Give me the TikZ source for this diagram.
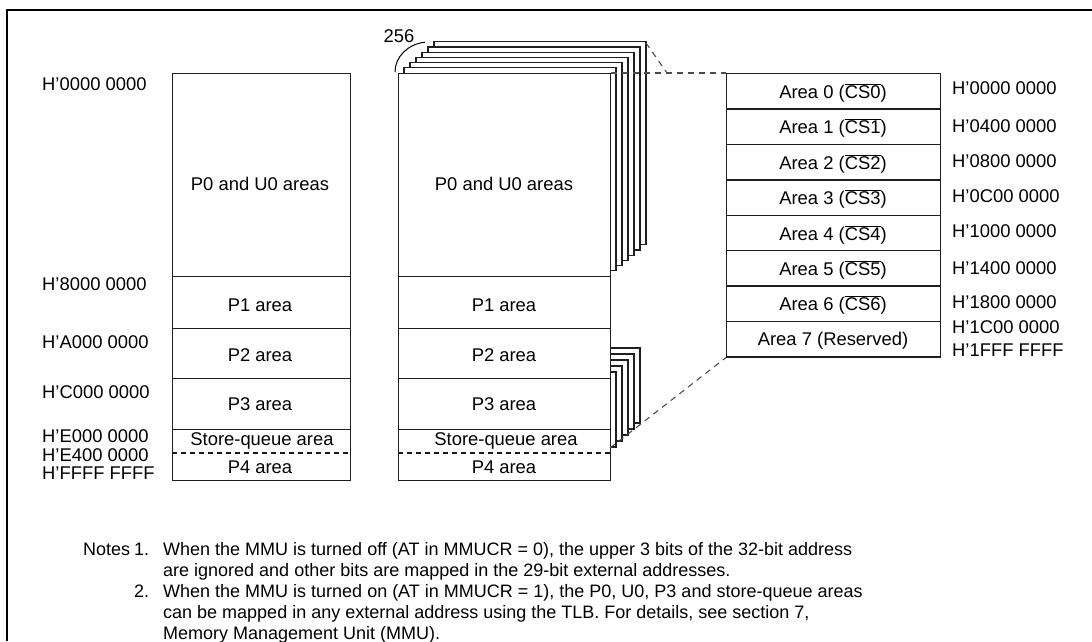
\documentclass[tikz,border=0pt]{standalone}
\usepackage{fontspec}
\setmainfont{Liberation Sans}
\begin{document}
\begin{tikzpicture}[x=1pt,y=-1pt,
  box/.style={draw=black!88,line width=1.3pt,fill=white,inner sep=0pt,anchor=north west},
  lbl/.style={font=\fontsize{18.4}{20}\selectfont,inner sep=0pt},
  addr/.style={lbl,anchor=west},
  note/.style={font=\fontsize{18}{20}\selectfont,inner sep=0pt,anchor=base west},
  guide/.style={draw=black!70,line width=1.1pt,dash pattern=on 6pt off 5pt},
  split/.style={draw=black!90,line width=1.3pt,dash pattern=on 5pt off 4pt}]
\useasboundingbox (0,0) rectangle (1092,641);
\draw[line width=1.5pt] (7,641) -- (7,10) -- (1092,10);

% ---------- left column ----------
\node[box,minimum width=178pt,minimum height=203pt] (a0) at (172,73) {};
\node[box,minimum width=178pt,minimum height=52pt] (a1) at (172,276) {};
\node[box,minimum width=178pt,minimum height=50pt] (a2) at (172,328) {};
\node[box,minimum width=178pt,minimum height=51pt] (a3) at (172,378) {};
\node[box,minimum width=178pt,minimum height=51pt] (a4) at (172,429) {};
\draw[split] (a4.west |- 0,453) coordinate (ad1) -- (a4.east |- 0,453) coordinate (ad2);
\node[lbl] (ta0) at (260,184) {P0 and U0 areas};
\node[lbl] (ta1) at (260,305) {P1 area};
\node[lbl] (ta2) at (260,355) {P2 area};
\node[lbl] (ta3) at (260,404) {P3 area};
\node[lbl] (ta4) at (262,441) {Store-queue area};
\node[lbl] (ta5) at (260,467) {P4 area};

\node[addr] (h0) at (42,84) {H'0000 0000};
\node[addr] (h1) at (42,284) {H'8000 0000};
\node[addr] (h2) at (42,342) {H'A000 0000};
\node[addr] (h3) at (42,392) {H'C000 0000};
\node[addr] (h4) at (42,436) {H'E000 0000};
\node[addr] (h5) at (42,455) {H'E400 0000};
\node[addr] (h6) at (42,473) {H'FFFF FFFF};

% ---------- middle column: stacked copies ----------
\foreach \k in {6,5,4,3,2,1}
  \draw[draw=black!88,line width=1.3pt,fill=white] (398+6*\k,73-5.2*\k) rectangle +(212,203);
\foreach \k in {5,4,3,2,1}
  \draw[draw=black!88,line width=1.3pt,fill=white] (398+6*\k,378-6*\k) rectangle +(212,75);

\node[box,minimum width=212pt,minimum height=203pt] (b0) at (398,73) {};
\node[box,minimum width=212pt,minimum height=52pt] (b1) at (398,276) {};
\node[box,minimum width=212pt,minimum height=50pt] (b2) at (398,328) {};
\node[box,minimum width=212pt,minimum height=51pt] (b3) at (398,378) {};
\node[box,minimum width=212pt,minimum height=51pt] (b4) at (398,429) {};
\draw[split] (b4.west |- 0,453) -- (b4.east |- 0,453);
\node[lbl] (tb0) at (504,184) {P0 and U0 areas};
\node[lbl] (tb1) at (504,305) {P1 area};
\node[lbl] (tb2) at (504,355) {P2 area};
\node[lbl] (tb3) at (504,404) {P3 area};
\node[lbl] (tb4) at (506,441) {Store-queue area};
\node[lbl] (tb5) at (504,467) {P4 area};

\node[lbl] (n256) at (399,36) {256};
\draw[line width=1pt] (395,72) arc[start angle=180,end angle=263,x radius=34,y radius=30];

% ---------- right column ----------
\foreach \i/\t in {0/Area 0 ($\overline{\mbox{CS0}}$),1/Area 1 ($\overline{\mbox{CS1}}$),2/Area 2 ($\overline{\mbox{CS2}}$),3/Area 3 ($\overline{\mbox{CS3}}$),4/Area 4 ($\overline{\mbox{CS4}}$),5/Area 5 ($\overline{\mbox{CS5}}$),6/Area 6 ($\overline{\mbox{CS6}}$),7/Area 7 (Reserved)}{
  \node[box,minimum width=214pt,minimum height=35.4pt] (c\i) at (726,73+35.4*\i) {};
  \node[lbl] (tc\i) at (833,93+35.4*\i) {\t};
}
\node[addr] (r0) at (952,88) {H'0000 0000};
\node[addr] (r1) at (952,126) {H'0400 0000};
\node[addr] (r2) at (952,161) {H'0800 0000};
\node[addr] (r3) at (952,196) {H'0C00 0000};
\node[addr] (r4) at (952,231) {H'1000 0000};
\node[addr] (r5) at (952,268) {H'1400 0000};
\node[addr] (r6) at (952,302) {H'1800 0000};
\node[addr] (r7) at (952,327) {H'1C00 0000};
\node[addr] (r8) at (952,350) {H'1FFF FFFF};

% ---------- guide lines ----------
\coordinate (k1) at (646,43);
\coordinate (k2) at (667,73);
\draw[guide] (k1) -- (k2);
\draw[guide] (b0.north east) -- (c0.north west);
\coordinate (k3) at (610,448);
\draw[guide] (k3) -- (c7.south west);

% ---------- notes ----------
\node[note] (nt) at (83,555) {Notes};
\node[note] (n1) at (134,555) {1.};
\node[note] (n1a) at (163,555) {When the MMU is turned off (AT in MMUCR = 0), the upper 3 bits of the 32-bit address};
\node[note] (n1b) at (163,576) {are ignored and other bits are mapped in the 29-bit external addresses.};
\node[note] (n2) at (134,597) {2.};
\node[note] (n2a) at (163,597) {When the MMU is turned on (AT in MMUCR = 1), the P0, U0, P3 and store-queue areas};
\node[note] (n2b) at (163,618) {can be mapped in any external address using the TLB. For details, see section 7,};
\node[note] (n2c) at (163,639) {Memory Management Unit (MMU).};
\end{tikzpicture}
\end{document}
